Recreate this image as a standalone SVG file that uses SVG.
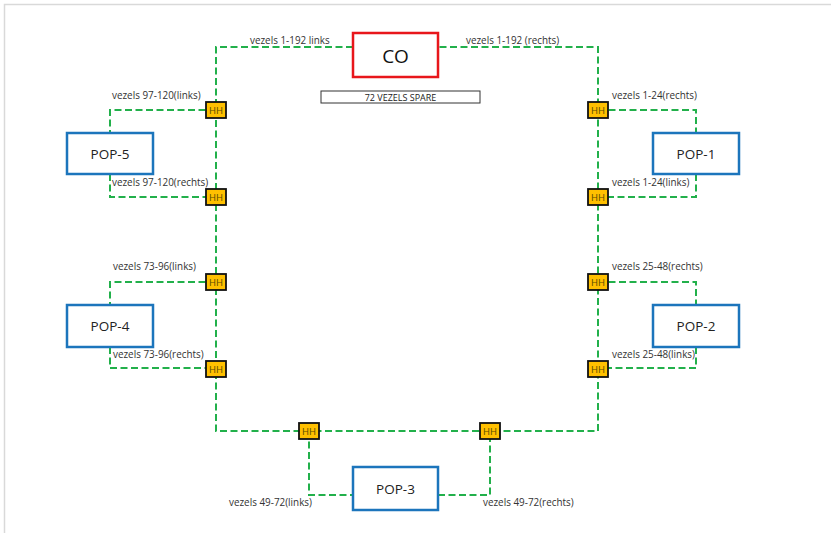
<svg xmlns="http://www.w3.org/2000/svg" width="831" height="533" viewBox="0 0 831 533">
<style>
.lbl{font-family:"Open Sans","Liberation Sans",sans-serif;font-size:9.9px;fill:#333}
.fib{fill:none;stroke:#22B04B;stroke-width:2;stroke-dasharray:7 3.5}
.pop{fill:#fff;stroke:#1C75BC;stroke-width:2.5}
.popt{font-family:"Open Sans","Liberation Sans",sans-serif;font-size:13.5px;fill:#222;text-anchor:middle}
.hh{fill:#FFC000;stroke:#111;stroke-width:1.8}
.hht{font-family:"Open Sans","Liberation Sans",sans-serif;font-size:9.5px;fill:#5A4800;text-anchor:middle}
</style>
<rect x="0" y="0" width="831" height="533" fill="#fff"/>
<path d="M4.5,533 V4.5 H831" fill="none" stroke="#d9d9d9" stroke-width="1.5"/>
<g id="connectors">
<path class="fib" d="M353,47 H216 V431 H598 V47 H438"/>
<path class="fib" d="M216,110 H110 V133"/>
<path class="fib" d="M110,174 V197 H216"/>
<path class="fib" d="M598,110 H696 V133"/>
<path class="fib" d="M696,174 V197 H598"/>
<path class="fib" d="M216,282 H110 V305"/>
<path class="fib" d="M110,347 V368 H216"/>
<path class="fib" d="M598,282 H696 V305"/>
<path class="fib" d="M696,347 V368 H598"/>
<path class="fib" d="M309,431 V495 H353"/>
<path class="fib" d="M438,495 H490 V431"/>
</g>
<g id="labels">
<text class="lbl" x="250" y="44">vezels 1-192 links</text>
<text class="lbl" x="466" y="44">vezels 1-192 (rechts)</text>
<text class="lbl" x="112" y="99">vezels 97-120(links)</text>
<text class="lbl" x="112" y="186">vezels 97-120(rechts)</text>
<text class="lbl" x="612" y="99">vezels 1-24(rechts)</text>
<text class="lbl" x="612" y="186">vezels 1-24(links)</text>
<text class="lbl" x="113" y="270">vezels 73-96(links)</text>
<text class="lbl" x="113" y="358">vezels 73-96(rechts)</text>
<text class="lbl" x="612" y="270">vezels 25-48(rechts)</text>
<text class="lbl" x="612" y="358">vezels 25-48(links)</text>
<text class="lbl" x="229" y="506">vezels 49-72(links)</text>
<text class="lbl" x="483" y="506">vezels 49-72(rechts)</text>
</g>
<g id="CO">
<rect x="353" y="33" width="85" height="44" fill="#fff" stroke="#E8161B" stroke-width="2.5"/>
<text x="395.5" y="62.5" font-family="Open Sans, Liberation Sans, sans-serif" font-size="19" fill="#111" text-anchor="middle">CO</text>
</g>
<g id="spare">
<rect x="321" y="91" width="159" height="12" fill="#fff" stroke="#333" stroke-width="1"/>
<text x="400.5" y="100.5" font-family="Open Sans, Liberation Sans, sans-serif" font-size="9" fill="#222" text-anchor="middle">72 VEZELS SPARE</text>
</g>
<g id="POP-5"><rect class="pop" x="67" y="133" width="86" height="41"/><text class="popt" x="110" y="158.5">POP-5</text></g>
<g id="POP-1"><rect class="pop" x="653" y="133" width="86" height="41"/><text class="popt" x="696" y="158.5">POP-1</text></g>
<g id="POP-4"><rect class="pop" x="67" y="305" width="86" height="42"/><text class="popt" x="110" y="330.5">POP-4</text></g>
<g id="POP-2"><rect class="pop" x="653" y="305" width="86" height="42"/><text class="popt" x="696" y="330.5">POP-2</text></g>
<g id="POP-3"><rect class="pop" x="353" y="467" width="85" height="43"/><text class="popt" x="395.5" y="493.5">POP-3</text></g>
<g id="HH-L1"><rect class="hh" x="206" y="102" width="20" height="16"/><text class="hht" x="216" y="113.5">HH</text></g>
<g id="HH-L2"><rect class="hh" x="206" y="189" width="20" height="16"/><text class="hht" x="216" y="200.5">HH</text></g>
<g id="HH-L3"><rect class="hh" x="206" y="274" width="20" height="16"/><text class="hht" x="216" y="285.5">HH</text></g>
<g id="HH-L4"><rect class="hh" x="206" y="361" width="20" height="16"/><text class="hht" x="216" y="372.5">HH</text></g>
<g id="HH-R1"><rect class="hh" x="588" y="102" width="20" height="16"/><text class="hht" x="598" y="113.5">HH</text></g>
<g id="HH-R2"><rect class="hh" x="588" y="189" width="20" height="16"/><text class="hht" x="598" y="200.5">HH</text></g>
<g id="HH-R3"><rect class="hh" x="588" y="274" width="20" height="16"/><text class="hht" x="598" y="285.5">HH</text></g>
<g id="HH-R4"><rect class="hh" x="588" y="361" width="20" height="16"/><text class="hht" x="598" y="372.5">HH</text></g>
<g id="HH-B1"><rect class="hh" x="299" y="423" width="20" height="16"/><text class="hht" x="309" y="434.5">HH</text></g>
<g id="HH-B2"><rect class="hh" x="480" y="423" width="20" height="16"/><text class="hht" x="490" y="434.5">HH</text></g>
</svg>
